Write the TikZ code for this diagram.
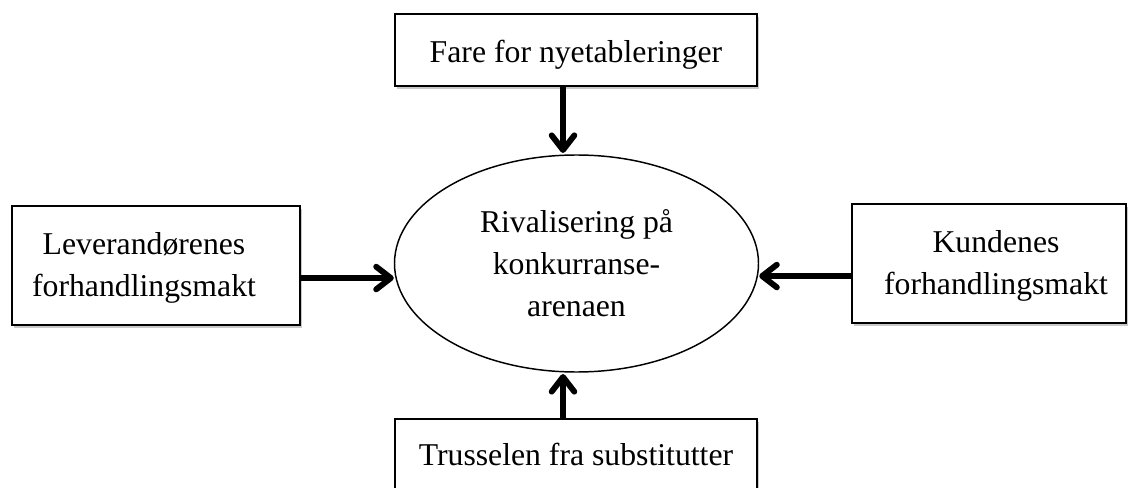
\documentclass[tikz,border=0pt]{standalone}
\usepackage{fontspec}
\setmainfont{Liberation Serif}
\usetikzlibrary{arrows.meta,shapes.geometric,shadows}
\begin{document}
\begin{tikzpicture}[x=0.75pt,y=-0.75pt,
  every node/.style={font=\fontsize{23.8}{31.5}\selectfont},
  boxnode/.style={draw=black, line width=1.5pt, fill=white, rectangle, inner sep=0pt,
    drop shadow={shadow xshift=1.2pt, shadow yshift=-2pt, opacity=0.3, fill=black!70}},
  txt/.style={inner sep=0pt, align=center},
  arr/.style={line width=4.4pt, -{Straight Barb[length=11pt,width=17pt,line cap=round,line join=round]}},
]
\clip (0,0) rectangle (1128,488);
% boxes
\node[boxnode, minimum width=271.5pt, minimum height=54pt] (T) at (576,50) {};
\node[boxnode, minimum width=216pt, minimum height=89.25pt] (L) at (156,265.5) {};
\node[boxnode, minimum width=205.5pt, minimum height=89.25pt] (R) at (989,263.5) {};
\node[boxnode, minimum width=271.5pt, minimum height=54pt] (B) at (576,455) {};
% ellipse
\node[draw=black, line width=1.1pt, ellipse, inner sep=0pt, align=center,
  minimum width=273pt, minimum height=162.75pt] (E) at (576.5,263.5)
  {Rivalisering på\\konkurranse-\\arenaen};
% texts
\node[txt, anchor=base] (Tt) at (576,63) {Fare for nyetableringer};
\node[txt] (Lt) at (144,267.5) {Leverandørenes\\forhandlingsmakt};
\node[txt] (Rt) at (996,265.5) {Kundenes\\forhandlingsmakt};
\node[txt, anchor=base] (Bt) at (576,465) {Trusselen fra substitutter};
% arrows
\draw[arr] ([xshift=-9.75pt]T.south) -- ([xshift=-9.75pt,yshift=1pt]T.south |- E.north);
\draw[arr] ([xshift=-9.75pt]B.north) -- ([xshift=-9.75pt,yshift=-1pt]B.north |- E.south);
\draw[arr] ([yshift=-9.4pt]L.east) -- ([yshift=-9.4pt]L.east -| E.west);
\draw[arr] ([yshift=-9.4pt]R.west) -- ([yshift=-9.4pt]R.west -| E.east);
\end{tikzpicture}
\end{document}
